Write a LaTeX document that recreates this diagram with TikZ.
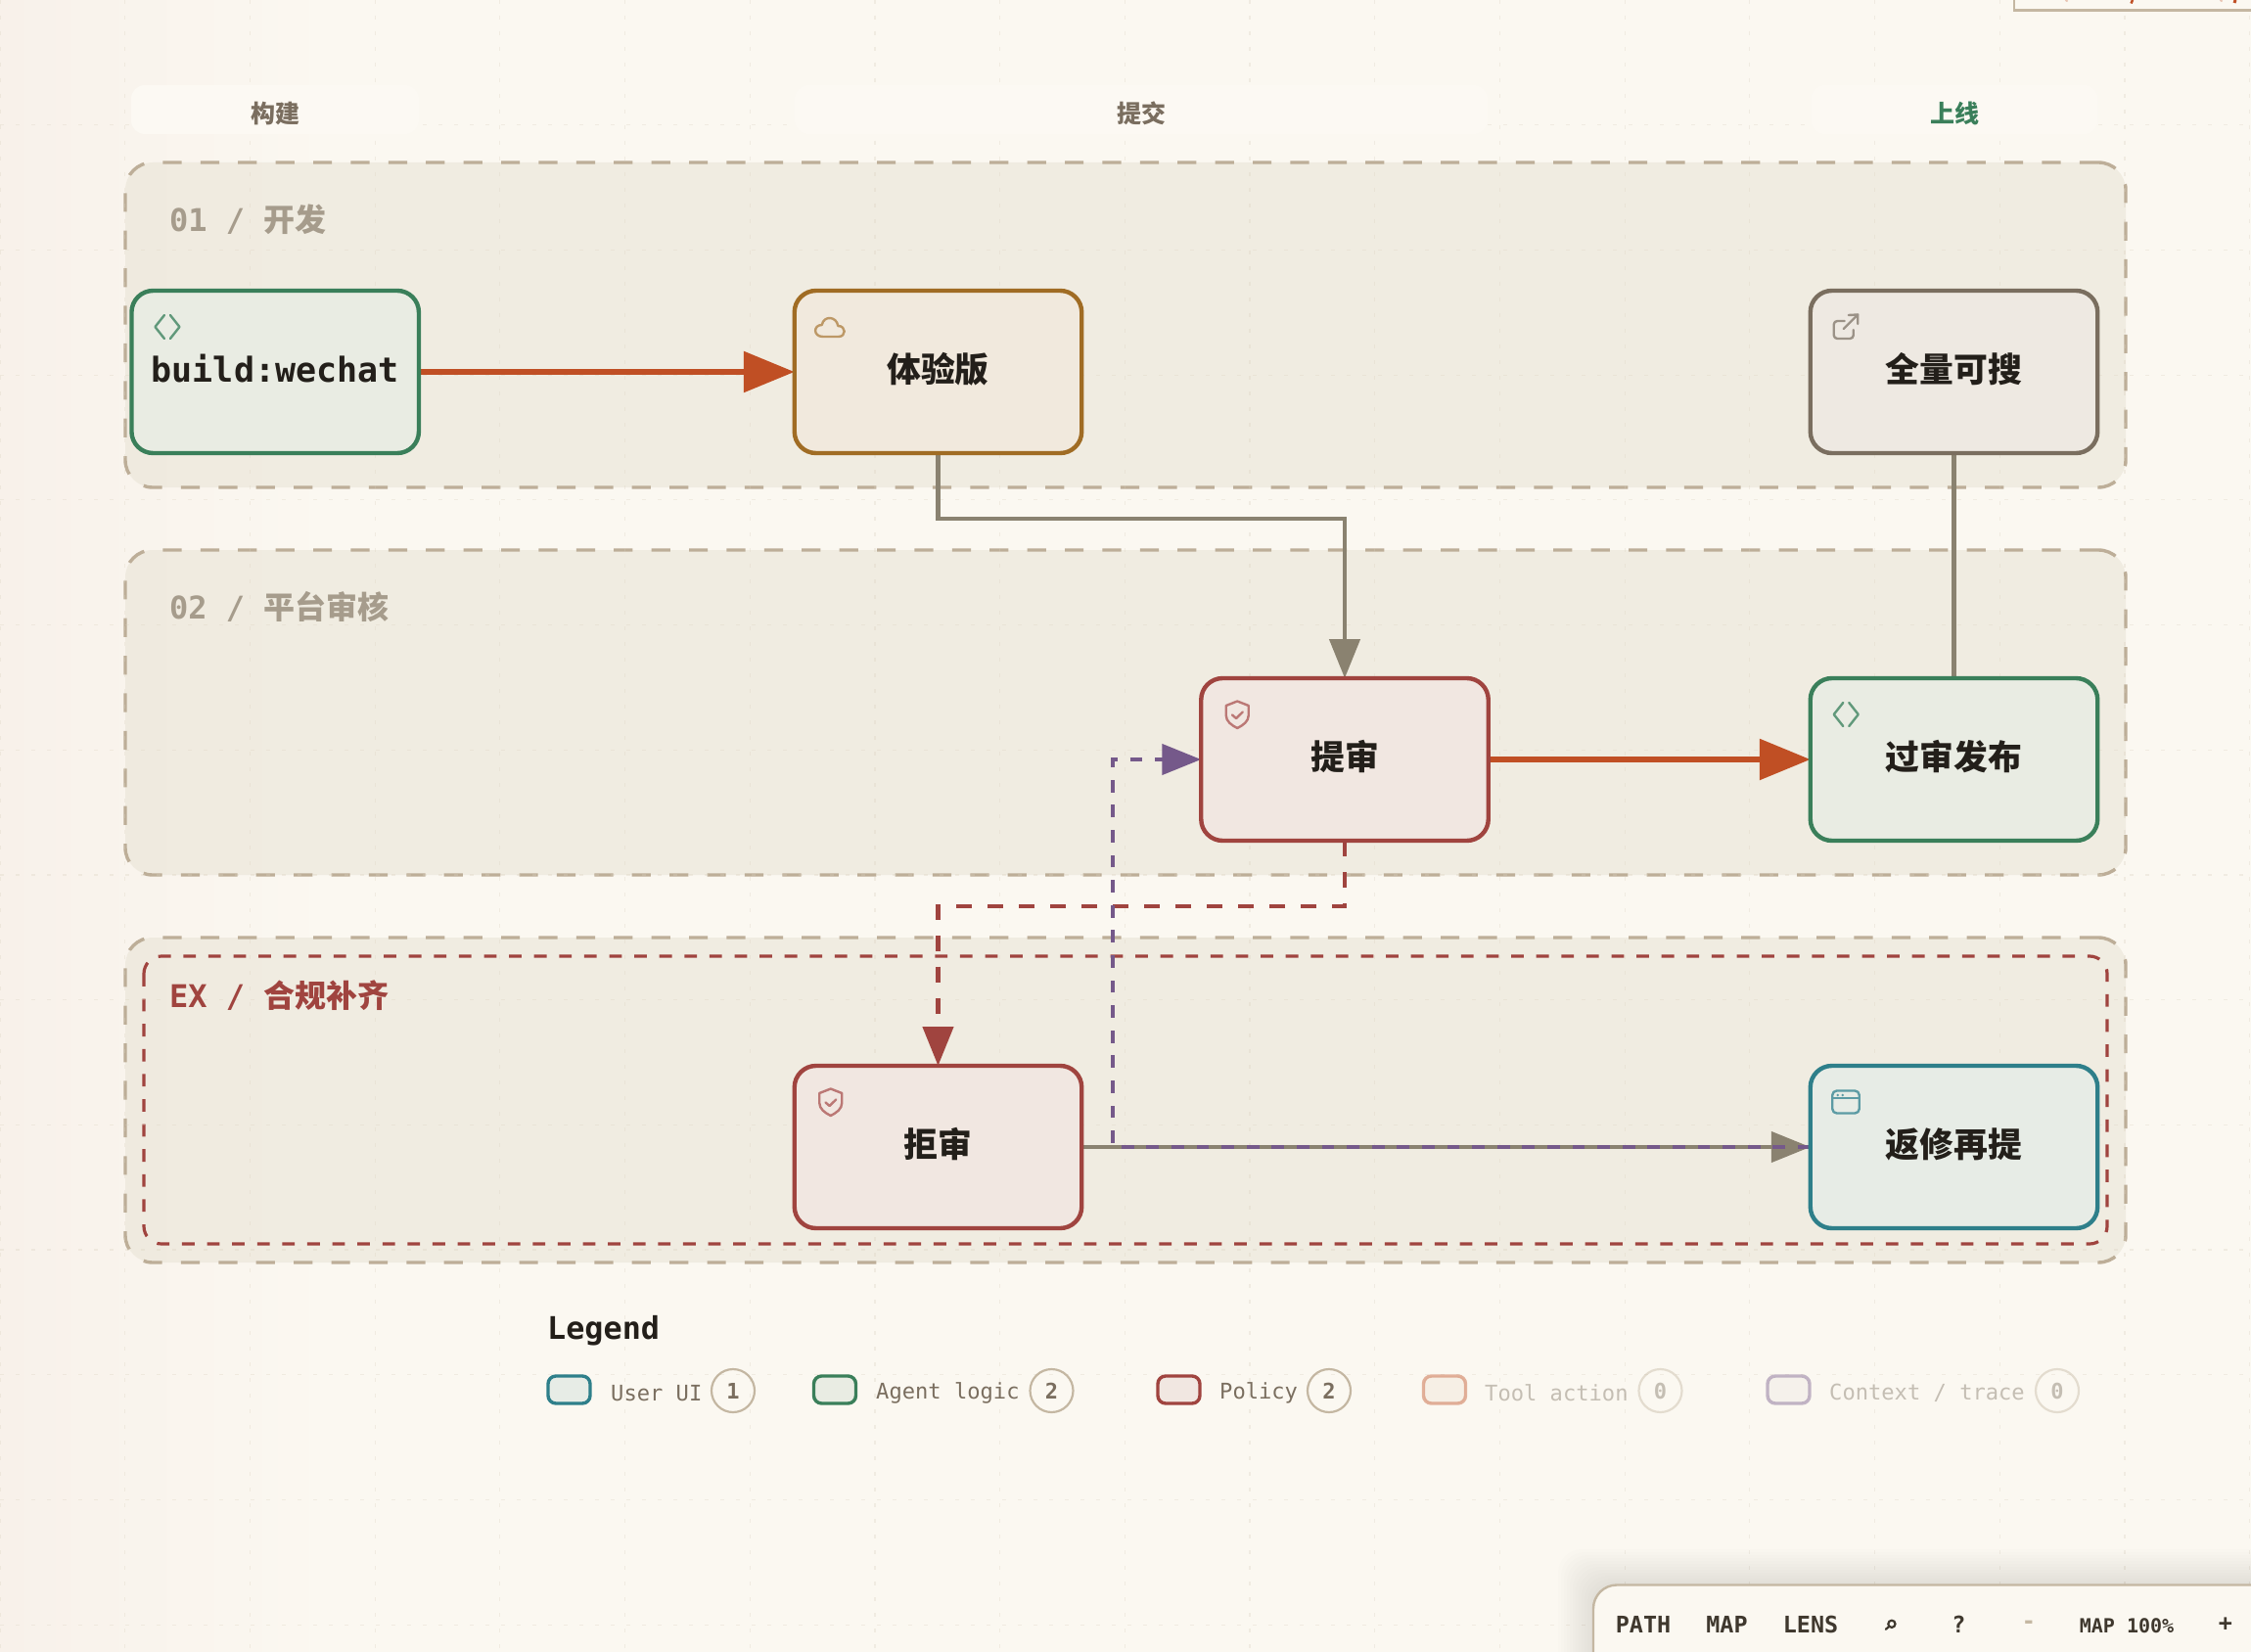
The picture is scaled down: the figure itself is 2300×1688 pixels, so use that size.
\documentclass[tikz,border=0pt]{standalone}
\usepackage{fontspec}
\usetikzlibrary{arrows.meta,calc}
\newfontfamily\monof{DejaVu Sans Mono}
\newfontfamily\cjkf{Noto Sans CJK SC}
\newcommand{\fsz}[1]{\fontsize{#1}{#1}\selectfont}
\newcommand{\cardtxt}[1]{\raisebox{-10.5pt}[0pt][0pt]{#1}}
\newcommand{\headtxt}[1]{\raisebox{-13.5pt}[0pt][0pt]{#1}}
\definecolor{bgc}{HTML}{FBF8F1}
\definecolor{bgpink}{HTML}{F8F1EA}
\definecolor{bandc}{HTML}{FCF9F3}
\definecolor{gridc}{HTML}{D9D0BD}
\definecolor{lanefill}{HTML}{E7E2D3}
\definecolor{laneline}{HTML}{BDAE98}
\definecolor{ink}{HTML}{231F1A}
\definecolor{muted}{HTML}{7A6E5F}
\definecolor{lanetxt}{HTML}{A69C8C}
\definecolor{greenc}{HTML}{3A7F5A}
\definecolor{greenf}{HTML}{E9ECE3}
\definecolor{tealc}{HTML}{2E7F8A}
\definecolor{tealf}{HTML}{E7ECE6}
\definecolor{redc}{HTML}{A0443F}
\definecolor{redf}{HTML}{F1E7E1}
\definecolor{amberc}{HTML}{A06C24}
\definecolor{amberf}{HTML}{F1E9DD}
\definecolor{greyf}{HTML}{EEE9E2}
\definecolor{orangec}{HTML}{C04F24}
\definecolor{orangef}{HTML}{F1E4D6}
\definecolor{purplef}{HTML}{EDE8E5}
\definecolor{edgegrey}{HTML}{8A8270}
\definecolor{purplec}{HTML}{75598A}
\definecolor{toolb}{HTML}{C4B7A2}
\definecolor{tooltxt}{HTML}{3F382E}
\pgfdeclarelayer{backl}
\pgfdeclarelayer{edgel}
\pgfsetlayers{backl,edgel,main}
\tikzset{
  x=1pt,y=-1pt,
  lane/.style={rectangle,draw=laneline,fill=lanefill,fill opacity=.5,draw opacity=1,line width=3.4pt,rounded corners=28pt,dash pattern=on 19.2pt off 19.2pt,minimum width=2044pt,minimum height=332pt,outer sep=0pt,inner sep=0pt},
  lanelabel/.style={anchor=west,inner sep=0pt,font=\monof\bfseries\fsz{32},text=lanetxt},
  band/.style={rectangle,fill=bandc,rounded corners=14pt,minimum height=50pt,outer sep=0pt,inner sep=0pt,font=\cjkf\bfseries\fsz{25},text=muted},
  card/.style={rectangle,line width=4.4pt,rounded corners=22pt,minimum width=293.5pt,minimum height=166pt,outer sep=0pt,inner sep=0pt,text=ink,font=\cjkf\bfseries\fsz{34.8}},
  edgebase/.style={line width=4.5pt,color=edgegrey},
  hotedge/.style={line width=6pt,color=orangec,-{Triangle[length=52pt,width=41pt]}},
  midtip/.style={-{Triangle[length=40pt,width=31pt]}},
  reddash/.style={line width=4.5pt,color=redc,dash pattern=on 16pt off 16pt,midtip},
  purpledash/.style={line width=4.5pt,color=purplec,dash pattern=on 12.8pt off 12.8pt,midtip},
  swatch/.style={rectangle,line width=3.4pt,rounded corners=8pt,minimum width=43pt,minimum height=28pt,outer sep=0pt,inner sep=0pt},
  legtxt/.style={anchor=west,inner sep=0pt,font=\monof\fsz{22.1},text=muted},
  badge/.style={circle,draw=toolb,line width=2.2pt,minimum size=44pt,inner sep=0pt,outer sep=0pt,font=\monof\bfseries\fsz{22},text=muted},
  faded/.style={opacity=.42},
  tooltext/.style={inner sep=0pt,font=\monof\bfseries\fsz{23.4},text=tooltxt},
  iconline/.style={line width=2.4pt,line cap=round,line join=round}
}
\newcommand{\iconcode}[2]{\begin{scope}[shift={(#1.north west)},iconline,#2]
  \draw (33.5,25) -- (24,37) -- (33.5,49);
  \draw (39.5,25) -- (49,37) -- (39.5,49);
\end{scope}}
\newcommand{\iconcloud}[2]{\begin{scope}[shift={(#1.north west)},iconline,#2]
  \draw (29,47) -- (45,47) .. controls (53,47) and (53,36) .. (44.5,36) .. controls (43,26) and (30,25) .. (28,35) .. controls (19,35) and (19,47) .. (29,47) -- cycle;
\end{scope}}
\newcommand{\iconext}[2]{\begin{scope}[shift={(#1.north west)},iconline,#2]
  \draw[rounded corners=3.5pt] (35,31) -- (24,31) -- (24,49) -- (44,49) -- (44,40);
  \draw (34,39) -- (48.5,24.5);
  \draw (39,25) -- (48.5,24.5) -- (48.5,34);
\end{scope}}
\newcommand{\iconshield}[2]{\begin{scope}[shift={(#1.north west)},iconline,#2]
  \draw (37,23.5) -- (48.5,28) -- (48.5,38) .. controls (48.5,44) and (43,48) .. (37,51) .. controls (31,48) and (25.5,44) .. (25.5,38) -- (25.5,28) -- cycle;
  \draw (31.8,37.5) -- (35.8,41) -- (42.5,34.5);
\end{scope}}
\newcommand{\iconweb}[2]{\begin{scope}[shift={(#1.north west)},iconline,#2]
  \draw[rounded corners=4.5pt] (22.5,25.5) rectangle (50,48.5);
  \draw (22.5,33) -- (50,33);
  \fill (28,30) circle (1.4pt) (33,30) circle (1.4pt);
\end{scope}}
\begin{document}
\begin{tikzpicture}
\clip (0,0) rectangle (2300,1688);
\useasboundingbox (0,0) rectangle (2300,1688);
\begin{pgfonlayer}{backl}
  \fill[bgc] (0,0) rectangle (2300,1688);
  \shade[left color=bgpink,right color=bgc] (0,0) rectangle (340,1688);
  % lanes
  \node[lane] (lane1) at (1150,332) {};
  \node[lane] (lane2) at (1150,728) {};
  \node[lane] (lane3) at (1150,1124) {};
  \draw[redc,line width=3.2pt,rounded corners=18pt,dash pattern=on 12.8pt off 12.8pt] (147,977) rectangle (2153,1271);
  % dotted grid
  \foreach \k in {1,...,18} {
    \draw[gridc,opacity=.3,line width=1.2pt,dash pattern=on 4pt off 12pt] (\k*127.7,0) -- (\k*127.7,1688);
  }
  \foreach \k in {1,...,13} {
    \draw[gridc,opacity=.3,line width=1.2pt,dash pattern=on 4pt off 12pt] (0,\k*127.7) -- (2300,\k*127.7);
  }
  \draw[gridc,opacity=.3,line width=1.2pt,dash pattern=on 4pt off 12pt] (0,0) -- (0,1688);
  % top-right clipped panel
  \draw[toolb,fill=bgc,line width=2.4pt] (2058,-10) rectangle (2320,10.5);
  \draw[orangec,line width=2.5pt] (2177.5,3.5) -- (2179,0);
  \draw[orangec,line width=3pt] (2283,3) -- (2284,0);
  \draw[orangec,opacity=.3,line width=2.5pt] (2111,1.5) -- (2112,0);
  \draw[orangec,opacity=.3,line width=2.5pt] (2269,1.5) -- (2270,0);
  % toolbar shadow
  \foreach \s in {3,6,...,36} {
    \fill[black,opacity=.006,rounded corners=24pt] (1628-\s,1619-\s) rectangle (2340,1730);
  }
\end{pgfonlayer}

% header bands
\node[band,minimum width=294pt] (h1) at (281,112) {\headtxt{构建}};
\node[band,minimum width=708pt] (h2) at (1166,112) {\headtxt{提交}};
\node[band,minimum width=293pt,text=greenc] (h3) at (1997,112) {\headtxt{上线}};

% lane labels
\node[lanelabel] (l1) at (173,224) {01 / {\cjkf\bfseries 开发}};
\node[lanelabel] (l2) at (173,620) {02 / {\cjkf\bfseries 平台审核}};
\node[lanelabel,text=redc] (l3) at (173,1017) {EX / {\cjkf\bfseries 合规补齐}};

% cards
\node[card,draw=greenc,fill=greenf,font=\monof\bfseries\fsz{35}] (build) at (281.2,380) {\cardtxt{build:wechat}};
\node[card,draw=amberc,fill=amberf] (trial) at (958.5,380) {\cardtxt{体验版}};
\node[card,draw=muted,fill=greyf] (live) at (1996.5,380) {\cardtxt{全量可搜}};
\node[card,draw=redc,fill=redf] (review) at (1374,776) {\cardtxt{提审}};
\node[card,draw=greenc,fill=greenf] (publish) at (1996.5,776) {\cardtxt{过审发布}};
\node[card,draw=redc,fill=redf] (reject) at (958.5,1172) {\cardtxt{拒审}};
\node[card,draw=tealc,fill=tealf] (fix) at (1996.5,1172) {\cardtxt{返修再提}};

% icons
\iconcode{build}{color=greenc!80!white}
\iconcloud{trial}{color=amberc!70!white}
\iconext{live}{color=muted!75!white}
\iconshield{review}{color=redc!72!white}
\iconcode{publish}{color=greenc!80!white}
\iconshield{reject}{color=redc!72!white}
\iconweb{fix}{color=tealc!78!white}

% connector helpers
\coordinate (t2r) at (0,530);
\coordinate (r2r) at (0,926);
\coordinate (pbend) at (1137,776);

\begin{pgfonlayer}{edgel}
  \draw[hotedge] (build.east) -- (build.east -| trial.west);
  \draw[edgebase,midtip] (trial.south) |- (t2r -| review.north) -- (review.north);
  \draw[edgebase] (live.south) -- (publish.north);
  \draw[hotedge] (review.east) -- (publish.west);
  \draw[reddash] (review.south) |- (r2r -| reject.north) -- (reject.north);
  \draw[edgebase,midtip] (reject.east) -- (fix.west);
  \draw[purpledash] (fix.west) -| (pbend) -- (review.west);
\end{pgfonlayer}

% legend
\node[anchor=west,inner sep=0pt,font=\monof\bfseries\fsz{31.8},text=ink] (legend) at (559,1359.5) {Legend};
\node[swatch,draw=tealc,fill=tealf] (s1) at (581.5,1420) {};
\node[legtxt] (t1) at (624,1423.5) {User UI};
\node[badge] (b1) at (749,1421) {1};
\node[swatch,draw=greenc,fill=greenf] (s2) at (853,1420) {};
\node[legtxt] (t2) at (895,1423.5) {Agent logic};
\node[badge] (b2) at (1074.5,1421) {2};
\node[swatch,draw=redc,fill=redf] (s3) at (1204.5,1420) {};
\node[legtxt] (t3) at (1246,1423.5) {Policy};
\node[badge] (b3) at (1358,1421) {2};
\begin{scope}[faded]
\node[swatch,draw=orangec,fill=orangef] (s4) at (1476,1420) {};
\node[legtxt] (t4) at (1517,1423.5) {Tool action};
\node[badge] (b4) at (1696.5,1421) {0};
\node[swatch,draw=purplec,fill=purplef] (s5) at (1827.5,1420) {};
\node[legtxt] (t5) at (1869,1423.5) {Context / trace};
\node[badge] (b5) at (2102,1421) {0};
\end{scope}

% toolbar
\draw[toolb,fill=bgc,line width=2.4pt,rounded corners=24pt] (1628,1619.5) rectangle (2340,1730);
\node[tooltext] (p1) at (1679,1660) {PATH};
\node[tooltext] (p2) at (1764.5,1660) {MAP};
\node[tooltext] (p3) at (1850,1660) {LENS};
\draw[tooltxt,line width=2.2pt,line cap=round] (1932.9,1659.3) circle (3.6pt) (1930.2,1661.9) -- (1926.8,1664.8);
\node[tooltext] (p5) at (2001.5,1660) {?};
\node[tooltext,text=toolb] (p6) at (2073,1660) {-};
\node[tooltext,font=\monof\bfseries\fsz{20}] (p7) at (2173,1661) {MAP 100\%};
\node[tooltext] (p8) at (2274,1660) {+};
\end{tikzpicture}
\end{document}
